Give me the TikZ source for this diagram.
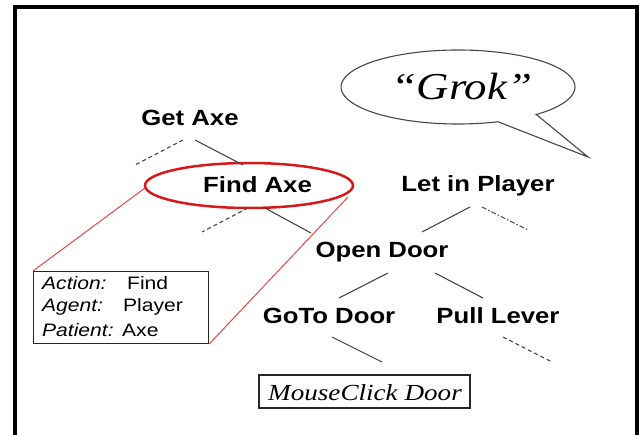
\documentclass[tikz,border=0pt]{standalone}
\usepackage{fontspec}
\usetikzlibrary{calc}
\setmainfont{Liberation Serif}
\newfontfamily\arialx[FakeStretch=1.17]{Liberation Sans}
\newfontfamily\timesx[FakeStretch=1.18]{Liberation Serif}
\definecolor{lnc}{RGB}{70,70,70}
\definecolor{redA}{RGB}{215,25,25}
\definecolor{redB}{RGB}{230,70,70}
\tikzset{
  tnode/.style={inner sep=0pt, anchor=base, font=\arialx\bfseries\fontsize{22}{26}\selectfont},
  link/.style={draw=lnc, line width=1.1pt},
  dlink/.style={draw=lnc, line width=1.1pt, dash pattern=on 4pt off 3pt},
  ddlink/.style={draw=lnc, line width=1.1pt, dash pattern=on 5pt off 2pt on 1.5pt off 2pt},
  attr/.style={inner sep=0pt, anchor=base west, font=\arialx\fontsize{18}{20}\selectfont},
}
\begin{document}
\begin{tikzpicture}[x=1pt,y=-1pt]
\useasboundingbox (0,0) rectangle (639,435);
% outer frame
\draw[line width=4pt] (14.7,445) -- (14.7,7) -- (637,7) -- (637,445);

% speech bubble
\draw[lnc, line width=1.1pt, fill=white]
  ($(458,87)+(70:117 and 37)$) arc[start angle=70, end angle=408, x radius=117, y radius=37]
  -- (588,157) -- cycle;
\node[inner sep=0pt, anchor=base, font=\timesx\itshape\fontsize{38}{42}\selectfont] (grok) at (462,100) {“Grok”};

% tree nodes
\node[tnode] (getaxe) at (190,126) {Get Axe};
\node[tnode] (findaxe) at (257.5,193) {Find Axe};
\node[tnode] (letin) at (478,192) {Let in Player};
\node[tnode] (opendoor) at (382,258) {Open Door};
\node[tnode] (gotodoor) at (329,323) {GoTo Door};
\node[tnode] (pulllever) at (498,323) {Pull Lever};

% red ellipse around Find Axe
\draw[redA, line width=2.5pt] (249,185.5) ellipse[x radius=104, y radius=22.5];

% attribute box
\node[draw=black!85, line width=1.1pt, minimum width=175pt, minimum height=72pt, inner sep=0pt, anchor=north west] (attrbox) at (33,271) {};
\node[attr] (l1) at (42,290) {\itshape Action:};
\node[attr] (v1) at (127,290) {Find};
\node[attr] (l2) at (42,312) {\itshape Agent:};
\node[attr] (v2) at (123,312) {Player};
\node[attr] (l3) at (42,336) {\itshape Patient:};
\node[attr] (v3) at (122,336) {Axe};

% red projection lines
\coordinate (rl1) at (145,188);
\coordinate (rr1) at (348,197);
\draw[redB, line width=1pt] (rl1) -- (attrbox.north west);
\draw[redB, line width=1pt] (rr1) -- (attrbox.south east);

% mouse click box
\node[draw=black!85, line width=1.1pt, minimum width=211pt, minimum height=33pt, inner sep=0pt] (mouse) at (364.5,391.5) {};
\node[inner sep=0pt, anchor=base, font=\timesx\itshape\fontsize{23}{26}\selectfont] (mtext) at (365,400) {MouseClick Door};

% connector stubs
\coordinate (a1) at (135,165); \coordinate (a2) at (183,140);
\coordinate (b1) at (195,140); \coordinate (b2) at (243,165);
\coordinate (c1) at (202,232); \coordinate (c2) at (248,208);
\coordinate (d1) at (263,207); \coordinate (d2) at (311,233);
\coordinate (e1) at (470,207); \coordinate (e2) at (422,232);
\coordinate (f1) at (482,207); \coordinate (f2) at (528,230);
\coordinate (g1) at (388,273); \coordinate (g2) at (339,298);
\coordinate (h1) at (435,273); \coordinate (h2) at (483,298);
\coordinate (i1) at (332,337); \coordinate (i2) at (382,362);
\coordinate (j1) at (503,337); \coordinate (j2) at (552,362);
\draw[dlink] (a2) -- (a1);
\draw[link] (b1) -- (b2);
\draw[dlink] (c2) -- (c1);
\draw[link] (d1) -- (d2);
\draw[link] (e1) -- (e2);
\draw[ddlink] (f1) -- (f2);
\draw[link] (g1) -- (g2);
\draw[link] (h1) -- (h2);
\draw[link] (i1) -- (i2);
\draw[dlink] (j1) -- (j2);
\end{tikzpicture}
\end{document}
